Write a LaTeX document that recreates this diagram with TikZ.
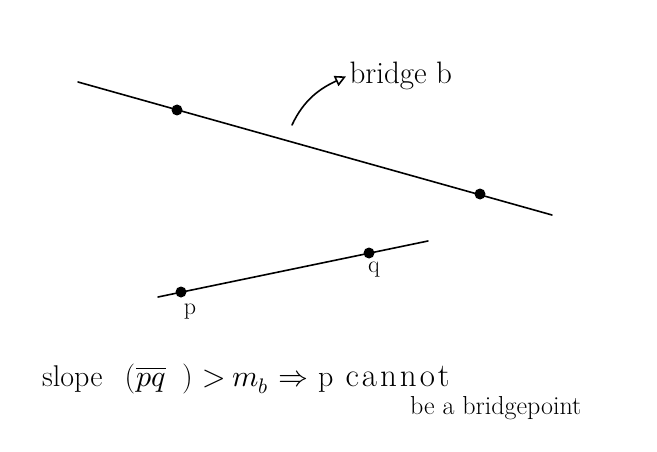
\documentclass[tikz,border=0pt]{standalone}
\usepackage{amsmath}
\usepackage{unicode-math}
\usetikzlibrary{arrows.meta}
\begin{document}
\begin{tikzpicture}[x=1pt,y=-1pt,line cap=round,font=\fontsize{24}{28}\selectfont,
  seg/.style={line width=1.6pt},
  dot/.style={circle,fill,inner sep=0pt,minimum size=11pt}]
\useasboundingbox (0,0) rectangle (657,452);
% bridge line
\coordinate (b1) at (78,82);
\coordinate (b2) at (552,215);
\draw[seg] (b1) -- (b2);
\node[dot] (u) at (177,110) {};
\node[dot] (v) at (480,194) {};
% segment pq
\coordinate (s1) at (158,297);
\coordinate (s2) at (428,241);
\draw[seg] (s1) -- (s2);
\node[dot] (p) at (181,292) {};
\node[dot] (q) at (369,253) {};
\node[anchor=north] (plab) at (190,300) {p};
\node[anchor=north] (qlab) at (374,258) {q};
% label of the bridge
\node[anchor=base west,font=\fontsize{31}{34}\selectfont] (blab) at (346,84) {bridge b};
\coordinate (t) at (292,125);
\draw[seg,-{Triangle[open,length=11pt,width=11pt]}] (t) to[out=65,in=205] (blab.west);
% conclusion
\node[anchor=base west,inner sep=0pt,font=\fontsize{30}{34}\selectfont] (c1) at (42,386)
  {slope\hspace{22pt}(\hspace{1pt}$\overline{pq}$\hspace{16pt})\hspace{10pt}$>$\hspace{6pt}$m_b$\hspace{10pt}$\Rightarrow$\hspace{10pt}p\hspace{12pt}{\fontsize{33}{36}\selectfont c\kern3pt a\kern3pt n\kern3pt n\kern3pt o\kern3pt t}};
\node[anchor=base west,inner sep=0pt,font=\fontsize{26}{30}\selectfont] (c2) at (410,414) {be a bridgepoint};
\end{tikzpicture}
\end{document}
